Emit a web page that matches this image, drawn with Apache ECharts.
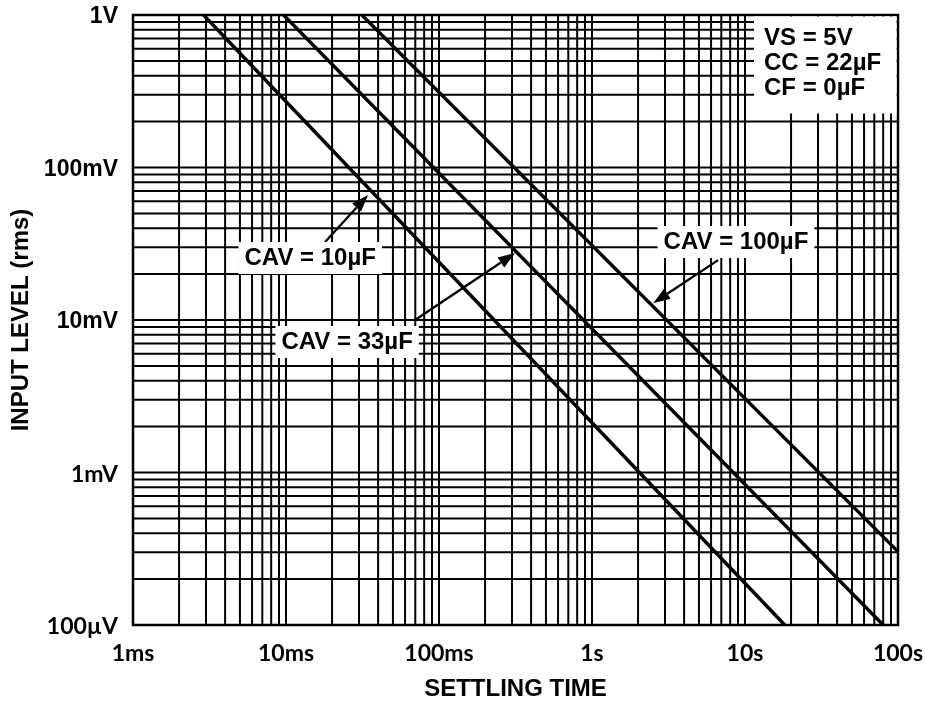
<!DOCTYPE html>
<html><head><meta charset="utf-8">
<script src="https://cdn.jsdelivr.net/npm/echarts@6/dist/echarts.min.js"></script>
<style>html,body{margin:0;padding:0;background:#fff}#c{width:925px;height:702px}</style>
</head><body><div id="c"></div>
<script>
// ---- data ----
const xTickLabels = ['1ms', '10ms', '100ms', '1s', '10s', '100s'];
const yTickLabels = ['100µV', '1mV', '10mV', '100mV', '1V'];
const seriesNames = ['CAV = 10µF', 'CAV = 33µF', 'CAV = 100µF'];
// [settling time (s), input level (V rms)]
const cav10 = [[0.00289, 1], [18.2, 0.0001]];
const cav33 = [[0.00964, 1], [80, 0.0001]];
const cav100 = [[0.0313, 1], [100, 0.000303]];
const conditions = ['VS = 5V', 'CC = 22µF', 'CF = 0µF'];
// annotation anchors in data units: label centre, arrow tail, arrow head
const ann10 = { label: [0.0144, 0.0255], tail: [0.0180, 0.0325], head: [0.0344, 0.0661] };
const ann33 = { label: [0.0251, 0.00718], tail: [0.0698, 0.0100], head: [0.314, 0.0275] };
const ann100 = { label: [8.73, 0.0325], tail: [6.67, 0.0247], head: [2.51, 0.0129] };

// ---- grid line values (1..9 x decade) ----
const xMin = 0.001, xMax = 100, yMin = 0.0001, yMax = 1;
function gridVals(min, max) {
  const out = [];
  for (let e = Math.round(Math.log10(min)); e < Math.round(Math.log10(max)); e++) {
    for (let m = 1; m <= 9; m++) {
      const v = m * Math.pow(10, e);
      if (v > min * 1.0001) out.push(+v.toPrecision(6));
    }
  }
  return out;
}
const xGrid = gridVals(xMin, xMax);
const yGrid = gridVals(yMin, yMax);

const chart = echarts.init(document.getElementById('c'), null, { renderer: 'canvas' });
const ARIAL = '"Liberation Sans", Arial, sans-serif';
const CAL = 'Lato, "Open Sans", sans-serif';

const gridStyle = { color: '#000', width: 2 };
const gridSeries = [];
xGrid.forEach(v => gridSeries.push({ type: 'line', silent: true, z: 1, symbol: 'none', data: [[v, yMin], [v, yMax]], lineStyle: gridStyle }));
yGrid.forEach(v => gridSeries.push({ type: 'line', silent: true, z: 1, symbol: 'none', data: [[xMin, v], [xMax, v]], lineStyle: gridStyle }));

const option = {
  backgroundColor: '#fff',
  animation: false,
  grid: { left: 133, right: 27, top: 15, bottom: 77, outerBoundsMode: 'none', containLabel: false, show: true, borderColor: '#000', borderWidth: 2.5, backgroundColor: 'transparent' },
  xAxis: {
    type: 'log', logBase: 10, min: xMin, max: xMax,
    axisLine: { show: false }, axisTick: { show: false }, splitLine: { show: false },
    axisLabel: {
      margin: 17, color: '#000', fontFamily: CAL, fontWeight: 'bold', fontSize: 23,
      formatter: v => xTickLabels[Math.round(Math.log10(v)) + 3]
    },
    name: 'SETTLING TIME', nameLocation: 'middle', nameGap: 52,
    nameTextStyle: { color: '#000', fontFamily: ARIAL, fontWeight: 'bold', fontSize: 24 }
  },
  yAxis: {
    type: 'log', logBase: 10, min: yMin, max: yMax,
    axisLine: { show: false }, axisTick: { show: false }, splitLine: { show: false },
    axisLabel: {
      margin: 15, color: '#000',
      formatter: v => {
        const i = Math.round(Math.log10(v)) + 4;
        return (i >= 2 ? '{a|' : '{b|') + yTickLabels[i] + '}';
      },
      rich: {
        a: { fontFamily: ARIAL, fontWeight: 'bold', fontSize: 23, color: '#000', padding: [4, 0, 0, 0] },
        b: { fontFamily: CAL, fontWeight: 'bold', fontSize: 23, color: '#000', padding: [4, 0, 0, 0] }
      }
    },
    name: 'INPUT LEVEL (rms)', nameLocation: 'middle', nameGap: 97,
    nameTextStyle: { color: '#000', fontFamily: ARIAL, fontWeight: 'bold', fontSize: 24 }
  },
  series: gridSeries.concat([
    { name: seriesNames[0], type: 'line', data: cav10, symbol: 'none', z: 3, lineStyle: { color: '#000', width: 3.4 } },
    { name: seriesNames[1], type: 'line', data: cav33, symbol: 'none', z: 3, lineStyle: { color: '#000', width: 3.4 } },
    { name: seriesNames[2], type: 'line', data: cav100, symbol: 'none', z: 3, lineStyle: { color: '#000', width: 3.4 } }
  ])
};
chart.setOption(option);

// ---- annotations ----
function px(p) { return chart.convertToPixel({ gridIndex: 0 }, p); }
function arrow(tail, head) {
  const a = px(tail), b = px(head);
  const dx = b[0] - a[0], dy = b[1] - a[1];
  const len = Math.hypot(dx, dy), ux = dx / len, uy = dy / len;
  const L = 17, W = 12;
  const bx = b[0] - ux * L, by = b[1] - uy * L;
  return [
    { type: 'line', z: 50, silent: true, shape: { x1: a[0], y1: a[1], x2: bx, y2: by }, style: { stroke: '#000', lineWidth: 2.3 } },
    { type: 'polygon', z: 50, silent: true, shape: { points: [[b[0], b[1]], [bx - uy * W / 2, by + ux * W / 2], [bx + uy * W / 2, by - ux * W / 2]] }, style: { fill: '#000' } }
  ];
}
function label(text, pos) {
  const p = px(pos);
  return {
    type: 'text', z: 60, silent: true, x: p[0], y: p[1],
    style: {
      text: text, font: 'bold 24px ' + ARIAL, fill: '#000', align: 'center', verticalAlign: 'middle',
      backgroundColor: '#fff', padding: [5, 6, 3, 6]
    }
  };
}
const tr = px([xMax, yMax]);
const elements = [
  ...arrow(ann10.tail, ann10.head), label(seriesNames[0], ann10.label),
  ...arrow(ann33.tail, ann33.head), label(seriesNames[1], ann33.label),
  ...arrow(ann100.tail, ann100.head), label(seriesNames[2], ann100.label),
  { type: 'rect', z: 55, silent: true, shape: { x: tr[0] - 144, y: tr[1] + 1.5, width: 142.5, height: 97 }, style: { fill: '#fff' } }
];
conditions.forEach((t, i) => {
  elements.push({
    type: 'text', z: 60, silent: true, x: tr[0] - 134, y: tr[1] + 23 + i * 25,
    style: { text: t, font: 'bold 24px ' + ARIAL, fill: '#000', align: 'left', verticalAlign: 'middle' }
  });
});
chart.setOption({ graphic: { elements: elements } });
</script>
</body></html>
